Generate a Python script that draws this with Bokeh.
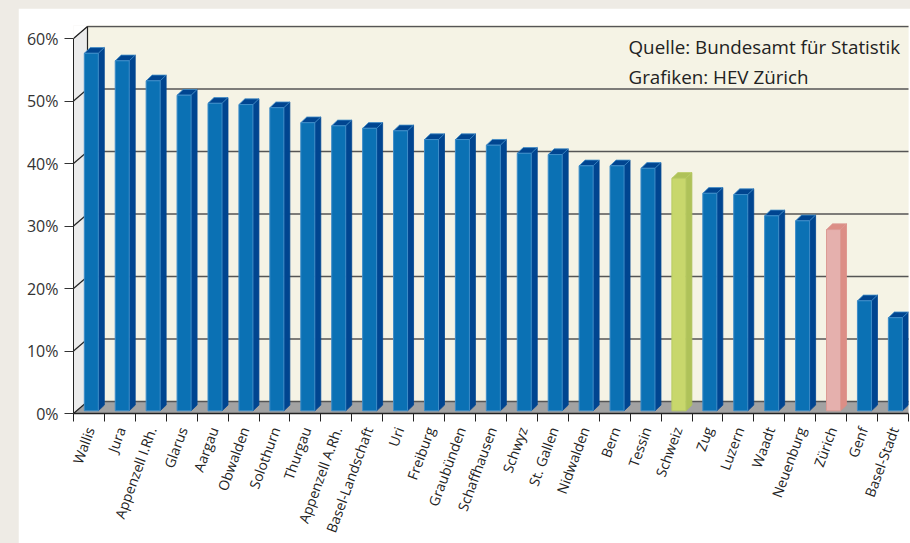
import math
from bokeh.plotting import figure
from bokeh.layouts import column
from bokeh.models import FixedTicker, PrintfTickFormatter, Range1d, Label
from bokeh.embed import file_html
from bokeh.resources import INLINE

# ---------------- data ----------------
cantons = ["Wallis", "Jura", "Appenzell I.Rh.", "Glarus", "Aargau", "Obwalden", "Solothurn",
           "Thurgau", "Appenzell A.Rh.", "Basel-Landschaft", "Uri", "Freiburg", "Graubünden",
           "Schaffhausen", "Schwyz", "St. Gallen", "Nidwalden", "Bern", "Tessin", "Schweiz",
           "Zug", "Luzern", "Waadt", "Neuenburg", "Zürich", "Genf", "Basel-Stadt"]
shares = [57.2, 56.0, 52.8, 50.5, 49.2, 49.0, 48.5, 46.1, 45.6, 45.2, 44.8, 43.4, 43.4,
          42.5, 41.2, 41.0, 39.2, 39.2, 38.8, 37.2, 34.8, 34.6, 31.2, 30.4, 29.0, 17.6, 14.9]
y_ticks = [0, 10, 20, 30, 40, 50, 60]
source_lines = ["Quelle: Bundesamt für Statistik", "Grafiken: HEV Zürich"]

# ---------------- styling / geometry (pixels converted to data units) ----------------
N = len(cantons)
FRAME_W = 835.0
FRAME_H = 388.0
CW = FRAME_W / N             # px per category
PP = 6.25                    # px per percent
Y_MAX = FRAME_H / PP
DX = 14.0 / CW               # wall depth
DY = 12.0 / PP
BAR_OFF = 10.8 / CW
BAR_W = 14.0 / CW
SX = 6.0 / CW
SY = 5.7 / PP
BASE = 2.7 / PP
LABEL_SHIFT = 1.0 / CW

FRONT = {"Schweiz": "#c8d76c", "Zürich": "#e5b0ad"}
SIDE = {"Schweiz": "#afc259", "Zürich": "#dc8e86"}
EDGE = {"Schweiz": "#b9cb63", "Zürich": "#dc9a94"}

p = figure(width=892, height=535, output_backend="svg", toolbar_location=None,
           x_range=Range1d(0, N), y_range=Range1d(0, Y_MAX),
           min_border_left=55, min_border_right=2, min_border_top=17, min_border_bottom=130)
p.margin = (8, 0, 0, 18)
p.background_fill_color = "white"
p.border_fill_color = "white"
p.outline_line_color = None
p.xgrid.grid_line_color = None
p.ygrid.grid_line_color = None

# back wall
p.quad(left=[DX], right=[N + 1], bottom=[DY], top=[Y_MAX + 1], fill_color="#f5f3e5", line_color=None)
# left wall
p.patch(x=[0, DX, DX, 0], y=[0, DY, y_ticks[-1] + DY, y_ticks[-1]], fill_color="#ebebeb",
        line_color="#9a9a9a", line_width=1)
# floor
p.patch(x=[0, DX, N + 1, N + 1], y=[0, DY, DY, 0], fill_color="#a2a2a2", line_color=None)

# grid lines on back wall and left wall
gx0 = [DX] * len(y_ticks)
gx1 = [N + 1] * len(y_ticks)
gy = [v + DY for v in y_ticks]
p.segment(x0=gx0, y0=gy, x1=gx1, y1=gy, line_color="#555555", line_width=1.3)
p.segment(x0=[0] * len(y_ticks), y0=y_ticks, x1=gx0, y1=gy, line_color="#222222", line_width=1.2)
p.segment(x0=[DX], y0=[DY], x1=[DX], y1=[y_ticks[-1] + DY], line_color="#222222", line_width=1.2)

# bars
fl, fr, fb, ft, fc, fe = [], [], [], [], [], []
sxs, sys_, sc = [], [], []
txs, tys = [], []
for i, (name, v) in enumerate(zip(cantons, shares)):
    l = i + BAR_OFF
    r = l + BAR_W
    b = BASE
    t = BASE + v
    fl.append(l); fr.append(r); fb.append(b); ft.append(t)
    fc.append(FRONT.get(name, "#0b71b4"))
    fe.append(EDGE.get(name, "#3d8cc8"))
    sc.append(SIDE.get(name, "#004590"))
    sxs.append([r, r + SX, r + SX, r]); sys_.append([b, b + SY, t + SY, t])
    txs.append([l, l + SX, r + SX, r]); tys.append([t, t + SY, t + SY, t])

p.patches(xs=sxs, ys=sys_, fill_color=sc, line_color=sc, line_width=0.8)
p.patches(xs=txs, ys=tys, fill_color=sc, line_color=fe, line_width=0.8)
p.quad(left=fl, right=fr, bottom=fb, top=ft, fill_color=fc, line_color=fe, line_width=1)

# axes
yax = p.yaxis[0]
yax.ticker = FixedTicker(ticks=y_ticks, minor_ticks=[])
yax.formatter = PrintfTickFormatter(format="%d%%")
yax.bounds = (0, y_ticks[-1])
yax.axis_line_color = "#222222"
yax.major_tick_line_color = "#333333"
yax.major_tick_out = 9
yax.major_tick_in = 0
yax.major_label_standoff = 6
yax.major_label_text_font = "Open Sans"
yax.major_label_text_font_size = "16px"
yax.major_label_text_color = "#333333"

xax = p.xaxis[0]
label_pos = [round(i + 0.5 + LABEL_SHIFT, 4) for i in range(N)]
xax.ticker = FixedTicker(ticks=label_pos, minor_ticks=list(range(N + 1)))
xax.major_label_overrides = {pos: name for pos, name in zip(label_pos, cantons)}
xax.major_tick_line_color = None
xax.minor_tick_line_color = "#222222"
xax.minor_tick_out = 8
xax.minor_tick_in = 0
xax.axis_line_color = "#222222"
xax.axis_line_width = 1.5
xax.major_label_orientation = math.radians(70)
xax.major_label_standoff = 6
xax.major_label_text_font = "Open Sans"
xax.major_label_text_font_size = "14px"
xax.major_label_text_color = "#222222"

# source note
for k, line in enumerate(source_lines):
    p.add_layout(Label(x=(628 - 73) / CW, y=(412.7 - 45.7 - 30 * k) / PP, text=line,
                       text_font="Open Sans", text_font_size="18.8px", text_color="#222222",
                       text_baseline="alphabetic"))

page = column(p, width=910, height=543, styles={"background-color": "#eeebe5"})
open("out.html", "w").write(file_html(page, INLINE))
